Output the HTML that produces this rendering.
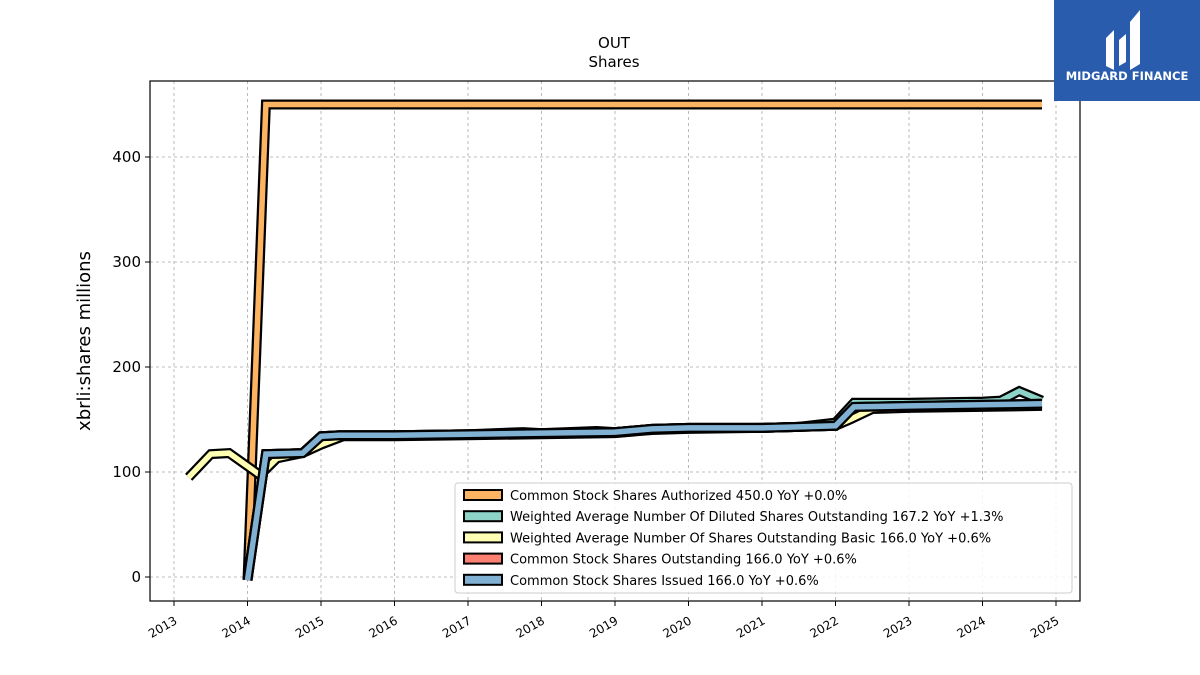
<!DOCTYPE html>
<html><head><meta charset="utf-8">
<style>
body{margin:0;background:#fff;font-family:"DejaVu Sans","Liberation Sans",sans-serif;}
#wrap{position:relative;width:1200px;height:675px;overflow:hidden;}
#logo{position:absolute;left:1054px;top:0;width:146px;height:101px;background:#2a5cad;}
#logo .t{position:absolute;left:0;width:146px;top:69px;text-align:center;color:#fff;font-weight:bold;font-size:11.5px;font-family:"DejaVu Sans",sans-serif;}
</style></head><body>
<div id="wrap">
<svg id="chart" width="1200" height="675"></svg>
<div id="logo">
<svg width="146" height="70">
<path d="M52 38 L60 30 L60 70 L52 66 Z" fill="#fff"/>
<path d="M65 40 L72 34 L72 62 L65 66 Z" fill="#fff"/>
<path d="M76 22 L86 10 L86 64 L76 70 Z" fill="#fff"/>
</svg>
<div class="t">MIDGARD FINANCE</div>
</div>
</div>
<script>
const yearTicks=[2013,2014,2015,2016,2017,2018,2019,2020,2021,2022,2023,2024,2025];
const yTicks=[0,100,200,300,400];
const authX=[2014.0,2014.25,2024.81];
const authY=[-3,450,450];
const dilX=[2014.0,2014.25,2014.75,2015.0,2015.25,2016,2017,2017.75,2018,2018.75,2019,2019.5,2020,2021,2021.5,2022.0,2022.25,2023,2024,2024.25,2024.5,2024.81];
const dilY=[-3,117,118,134,135,135,136,138,137,139,138,141,142,142,143,147,166,166,167,168,177,168];
const basX=[2013.2,2013.5,2013.75,2014.17,2014.4,2014.75,2015.0,2015.3,2016,2017,2018,2019,2019.5,2020,2021,2021.5,2022.0,2022.2,2022.5,2023,2024,2024.81];
const basY=[95,117,118,97,113,118,126,134,134,135,136,137,140,141,142,143,144,150,160,161,162,163];
const outX=[2014.0,2014.25,2014.75,2015.0,2015.25,2016,2017,2018,2019,2019.5,2020,2021,2021.5,2022.0,2022.25,2023,2024,2024.81];
const outY=[-3,117,118,134,135,135,136,137,138,141,142,142,143,144,162,163,164,165];
const issX=outX.slice();
const issY=[-3,117,118,134,135,135,136,137,138,141,142,142,143,144,162,163,164,165];
const legendLabels=["Common Stock Shares Authorized  450.0 YoY +0.0%","Weighted Average Number Of Diluted Shares Outstanding  167.2 YoY +1.3%","Weighted Average Number Of Shares Outstanding Basic  166.0 YoY +0.6%","Common Stock Shares Outstanding  166.0 YoY +0.6%","Common Stock Shares Issued  166.0 YoY +0.6%"];
const colors=["#fdb462","#8dd3c7","#ffffb3","#fb8072","#80b1d3"];

const NS="http://www.w3.org/2000/svg";
const svg=document.getElementById('chart');
const L=150,R=1080,T=81,B=601;
function xs(y){return 174+(y-2013)*73.5;}
function ys(v){return 577-v*1.05;}
function mk(tag,attrs,parent){const e=document.createElementNS(NS,tag);for(const k in attrs)e.setAttribute(k,attrs[k]);(parent||svg).appendChild(e);return e;}

let t=mk('text',{x:614,y:48,'text-anchor':'middle','font-size':15});t.textContent='OUT';


t=mk('text',{x:614,y:67,'text-anchor':'middle','font-size':15});t.textContent='Shares';



yearTicks.forEach(yr=>{
 const x=xs(yr);
 const g=mk('line',{x1:x,x2:x,y1:T,y2:B,stroke:'#aaa','stroke-dasharray':'3,3','stroke-width':0.8});
 
 
 mk('line',{x1:x,x2:x,y1:B,y2:B+5,stroke:'#000'});
 const tx=mk('text',{x:x+4,y:B+22,'text-anchor':'end','font-size':12,transform:`rotate(-30 ${x+4} ${B+22})`});
 tx.textContent=yr;
 
 
});
yTicks.forEach(v=>{
 const y=ys(v);
 const g=mk('line',{x1:L,x2:R,y1:y,y2:y,stroke:'#aaa','stroke-dasharray':'3,3','stroke-width':0.8});
 
 
 mk('line',{x1:L-5,x2:L,y1:y,y2:y,stroke:'#000'});
 const tx=mk('text',{x:L-9,y:y+5,'text-anchor':'end','font-size':15});
 tx.textContent=v;
 
 
});
t=mk('text',{x:90,y:341,'text-anchor':'middle','font-size':18,transform:'rotate(-90 90 341)'});
t.textContent='xbrli:shares millions';



const series=[[authX,authY,'series-authorized'],[dilX,dilY,'series-diluted'],[basX,basY,'series-basic'],[outX,outY,'series-outstanding'],[issX,issY,'series-issued']];
series.forEach((s,i)=>{
 const pts=s[0].map((x,j)=>xs(x).toFixed(1)+','+ys(s[1][j]).toFixed(1)).join(' ');
 const g=mk('g',{});
 
 
 mk('polyline',{points:pts,fill:'none',stroke:'#000','stroke-width':10,'stroke-linejoin':'miter'},g);
 mk('polyline',{points:pts,fill:'none',stroke:colors[i],'stroke-width':5.5,'stroke-linejoin':'miter'},g);
});

const fr=mk('rect',{x:L,y:T,width:R-L,height:B-T,fill:'none',stroke:'#000','stroke-width':1.2});



const lg=mk('g',{});


mk('rect',{x:455,y:483,width:617,height:110,rx:3,fill:'#fff','fill-opacity':0.85,stroke:'#ccc'},lg);
legendLabels.forEach((lab,i)=>{
 const y=495+i*21.2;
 const e=mk('g',{},lg);
 
 
 mk('rect',{x:464,y:y-5,width:38,height:10,fill:colors[i],stroke:'#000','stroke-width':2},e);
 const tx=mk('text',{x:510,y:y+5,'font-size':13},e);
 tx.textContent=lab;
});
</script>
</body></html>
